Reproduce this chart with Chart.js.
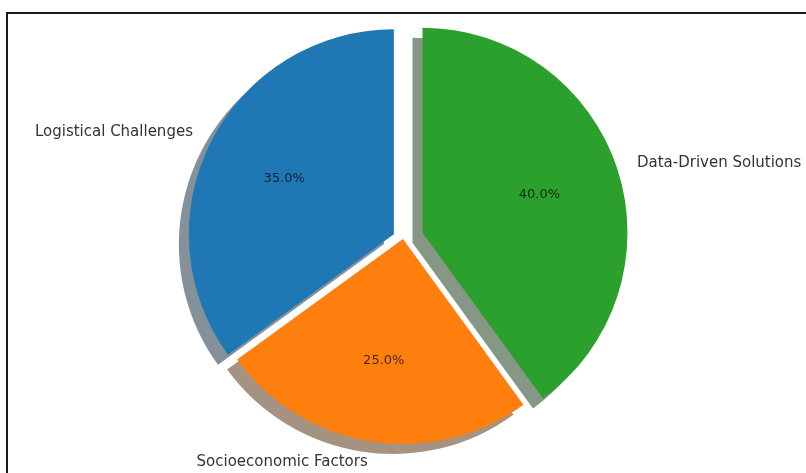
<!DOCTYPE html>
<html>
<head>
<meta charset="utf-8">
<title>Pie chart</title>
<script src="https://cdn.jsdelivr.net/npm/chart.js@4.4.0/dist/chart.umd.min.js"></script>
<style>
  html, body { margin: 0; padding: 0; background: #fff; overflow: hidden; }
  #wrap { position: relative; width: 806px; height: 473px; overflow: hidden; }
  #wrap canvas { position: absolute; left: 0; top: 0; }
  #frame {
    position: absolute; left: 6px; top: 12px; width: 830px; height: 490px;
    border: 2px solid #1a1a1a; pointer-events: none;
  }
</style>
</head>
<body>
<div id="wrap">
  <canvas id="pieChart" width="806" height="473"></canvas>
  <div id="frame"></div>
</div>
<script>
const categories = ["Logistical Challenges", "Socioeconomic Factors", "Data-Driven Solutions"];
const shares = [35, 25, 40];
const explode = [0.05, 0, 0.1];
const colors = ["#1f77b4", "#ff7f0e", "#2ca02c"];

// slices run counter-clockwise from 12 o'clock, chart.js runs clockwise
const order = [2, 1, 0];

const RADIUS = 205;
const SHADOW_DX = -10;
const SHADOW_DY = 10;

function shadowOf(hex) {
  const n = parseInt(hex.slice(1), 16);
  const r = Math.round(((n >> 16) & 255) * 0.3);
  const g = Math.round(((n >> 8) & 255) * 0.3);
  const b = Math.round((n & 255) * 0.3);
  return `rgba(${r}, ${g}, ${b}, 0.5)`;
}

function midAngle(arc) {
  return (arc.startAngle + arc.endAngle) / 2;
}

const pieExtras = {
  id: "pieExtras",
  afterDatasetsUpdate(chart) {
    const ds = chart.data.datasets[0];
    chart.getDatasetMeta(0).data.forEach((arc, i) => {
      const k = ds.explode[i] * arc.outerRadius;
      const a = midAngle(arc);
      arc.x += Math.cos(a) * k;
      arc.y += Math.sin(a) * k;
    });
  },
  beforeDatasetsDraw(chart) {
    const ctx = chart.ctx;
    const ds = chart.data.datasets[0];
    chart.getDatasetMeta(0).data.forEach((arc, i) => {
      const x = arc.x + SHADOW_DX;
      const y = arc.y + SHADOW_DY;
      ctx.save();
      ctx.beginPath();
      ctx.moveTo(x, y);
      ctx.arc(x, y, arc.outerRadius, arc.startAngle, arc.endAngle);
      ctx.closePath();
      ctx.fillStyle = shadowOf(ds.backgroundColor[i]);
      ctx.fill();
      ctx.restore();
    });
  },
  afterDatasetsDraw(chart) {
    const ctx = chart.ctx;
    const ds = chart.data.datasets[0];
    const total = ds.data.reduce((s, v) => s + v, 0);
    chart.getDatasetMeta(0).data.forEach((arc, i) => {
      const a = midAngle(arc);
      const c = Math.cos(a);
      const s = Math.sin(a);
      const r = arc.outerRadius;
      ctx.save();
      ctx.textBaseline = "middle";

      ctx.font = '13px "DejaVu Sans"';
      ctx.fillStyle = "rgba(0, 0, 0, 0.72)";
      ctx.textAlign = "center";
      ctx.fillText((ds.data[i] / total * 100).toFixed(1) + "%", arc.x + c * r * 0.6, arc.y + s * r * 0.6);

      ctx.font = '15px "DejaVu Sans"';
      ctx.fillStyle = "#333";
      ctx.textAlign = c < 0 ? "right" : "left";
      ctx.fillText(chart.data.labels[i], arc.x + c * r * 1.1, arc.y + s * r * 1.1);
      ctx.restore();
    });
  }
};

const ctx = document.getElementById("pieChart").getContext("2d");
new Chart(ctx, {
  type: "pie",
  data: {
    labels: order.map((i) => categories[i]),
    datasets: [
      {
        data: order.map((i) => shares[i]),
        explode: order.map((i) => explode[i]),
        backgroundColor: order.map((i) => colors[i]),
        borderWidth: 0,
      },
    ],
  },
  options: {
    responsive: false,
    animation: false,
    radius: RADIUS,
    layout: { padding: { top: 5 } },
    plugins: {
      legend: { display: false },
      tooltip: { enabled: false },
    },
  },
  plugins: [pieExtras],
});
</script>
</body>
</html>
